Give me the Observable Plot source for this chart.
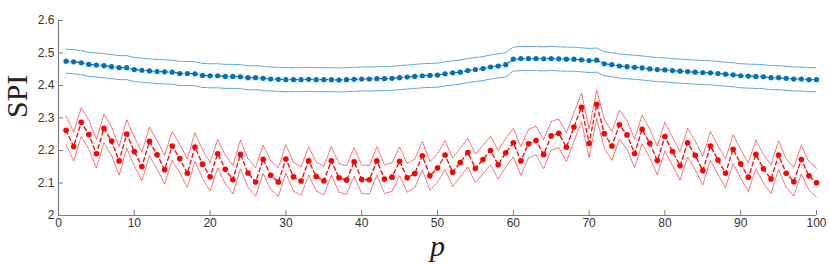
<!DOCTYPE html>
<html><head><meta charset="utf-8">
<script src="https://cdn.jsdelivr.net/npm/d3@7"></script>
<script src="https://cdn.jsdelivr.net/npm/@observablehq/plot@0.6"></script>
<style>body{margin:0;background:#fff}</style>
</head><body><div id="chart"></div>
<script>
const pValues = [1,2,3,4,5,6,7,8,9,10,11,12,13,14,15,16,17,18,19,20,21,22,23,24,25,26,27,28,29,30,31,32,33,34,35,36,37,38,39,40,41,42,43,44,45,46,47,48,49,50,51,52,53,54,55,56,57,58,59,60,61,62,63,64,65,66,67,68,69,70,71,72,73,74,75,76,77,78,79,80,81,82,83,84,85,86,87,88,89,90,91,92,93,94,95,96,97,98,99,100];

const blueMean = [2.475,2.473,2.470,2.465,2.463,2.461,2.458,2.455,2.455,2.449,2.447,2.445,2.443,2.442,2.441,2.437,2.437,2.436,2.431,2.430,2.430,2.428,2.428,2.427,2.424,2.424,2.422,2.420,2.419,2.418,2.418,2.418,2.419,2.418,2.418,2.418,2.417,2.418,2.419,2.420,2.420,2.421,2.421,2.422,2.424,2.426,2.428,2.430,2.431,2.432,2.436,2.439,2.441,2.446,2.449,2.452,2.457,2.460,2.464,2.481,2.483,2.483,2.483,2.482,2.483,2.482,2.481,2.481,2.479,2.477,2.478,2.467,2.464,2.460,2.458,2.456,2.454,2.451,2.449,2.448,2.446,2.444,2.443,2.441,2.440,2.439,2.437,2.435,2.433,2.430,2.429,2.428,2.427,2.424,2.424,2.422,2.420,2.420,2.418,2.418];
const blueHalfWidth = 0.037;

const redMean = [2.262,2.212,2.287,2.249,2.190,2.268,2.229,2.168,2.251,2.197,2.151,2.228,2.187,2.141,2.214,2.175,2.130,2.211,2.158,2.119,2.190,2.142,2.110,2.188,2.131,2.103,2.173,2.124,2.103,2.174,2.119,2.106,2.168,2.120,2.107,2.168,2.116,2.109,2.165,2.111,2.110,2.168,2.112,2.118,2.167,2.116,2.129,2.184,2.122,2.146,2.186,2.133,2.163,2.194,2.145,2.172,2.200,2.156,2.193,2.224,2.168,2.221,2.231,2.188,2.245,2.253,2.210,2.272,2.333,2.222,2.342,2.252,2.214,2.279,2.248,2.191,2.265,2.222,2.169,2.243,2.197,2.153,2.224,2.185,2.138,2.214,2.171,2.130,2.204,2.159,2.118,2.188,2.144,2.112,2.186,2.130,2.104,2.172,2.122,2.101];
const redHalfWidth = 0.044;

const xTicks = [0,10,20,30,40,50,60,70,80,90,100];
const xTickLabels = ["0","10","20","30","40","50","60","70","80","90","100"];
const yTicks = [2,2.1,2.2,2.3,2.4,2.5,2.6];
const yTickLabels = ["2","2.1","2.2","2.3","2.4","2.5","2.6"];
const xLabel = "p";
const yLabel = "SPI";

const blueColor = "#0072BD";
const redColor = "#FF0000";

const blue = pValues.map((p, i) => ({p, v: blueMean[i], lo: blueMean[i] - blueHalfWidth, hi: blueMean[i] + blueHalfWidth}));
const red = pValues.map((p, i) => ({p, v: redMean[i], lo: redMean[i] - redHalfWidth, hi: redMean[i] + redHalfWidth}));

const xLab = new Map(xTicks.map((t, i) => [t, xTickLabels[i]]));
const yLab = new Map(yTicks.map((t, i) => [t, yTickLabels[i]]));
const axisColor = "#7a7a7a";

const chart = Plot.plot({
  width: 830, height: 264,
  marginLeft: 58, marginRight: 14, marginTop: 20, marginBottom: 49,
  x: {domain: [0, 100]},
  y: {domain: [2, 2.6]},
  style: {fontFamily: "'Liberation Sans', Arial, sans-serif", fontSize: "12px", color: "#333", background: "white"},
  marks: [
    Plot.axisX({ticks: xTicks, tickFormat: d => xLab.get(d), tickSize: -5, tickPadding: 8, label: null, stroke: axisColor}),
    Plot.axisY({ticks: yTicks, tickFormat: d => yLab.get(d), tickSize: -5, tickPadding: 9, label: null, stroke: axisColor}),
    Plot.ruleY([2], {stroke: axisColor, strokeWidth: 1.2}),
    Plot.ruleX([0], {stroke: axisColor, strokeWidth: 1.2}),
    Plot.line(blue, {x: "p", y: "hi", stroke: blueColor, strokeWidth: 0.9, strokeDasharray: "1,1.2", strokeOpacity: 0.85}),
    Plot.line(blue, {x: "p", y: "lo", stroke: blueColor, strokeWidth: 0.9, strokeDasharray: "1,1.2", strokeOpacity: 0.85}),
    Plot.line(blue, {x: "p", y: "v", stroke: blueColor, strokeWidth: 1.2, strokeDasharray: "3,2"}),
    Plot.dot(blue, {x: "p", y: "v", fill: blueColor, r: 2.6}),
    Plot.line(red, {x: "p", y: "hi", stroke: redColor, strokeWidth: 0.9, strokeDasharray: "1,1.2", strokeOpacity: 0.75}),
    Plot.line(red, {x: "p", y: "lo", stroke: redColor, strokeWidth: 0.9, strokeDasharray: "1,1.2", strokeOpacity: 0.75}),
    Plot.line(red, {x: "p", y: "v", stroke: redColor, strokeWidth: 1.3, strokeDasharray: "4,3"}),
    Plot.dot(red, {x: "p", y: "v", fill: redColor, r: 2.8}),
    Plot.text([yLabel], {frameAnchor: "left", dx: -41, rotate: -90, fontFamily: "'Liberation Serif', 'DejaVu Serif', serif", fontSize: 30, fill: "#222"}),
    Plot.text([xLabel], {frameAnchor: "bottom", dy: 40, fontFamily: "'Liberation Serif', 'DejaVu Serif', serif", fontStyle: "italic", fontSize: 30, fill: "#222"})
  ]
});
document.getElementById("chart").appendChild(chart);
</script>
</body></html>
